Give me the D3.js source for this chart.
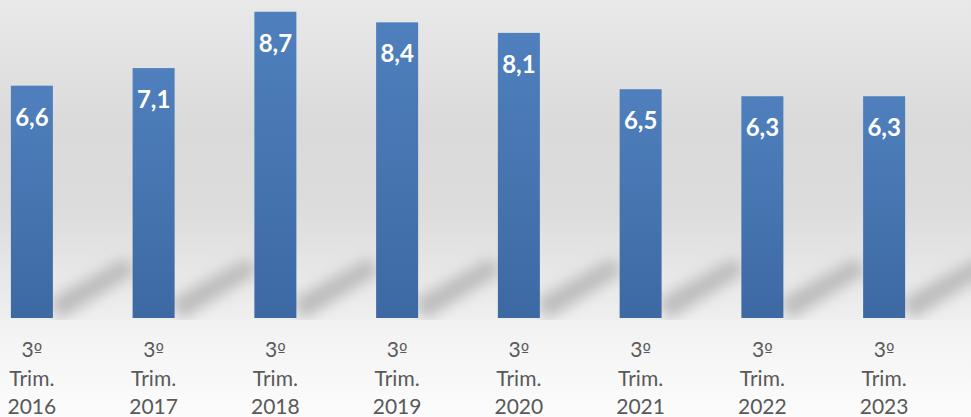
<!DOCTYPE html>
<html>
<head>
<meta charset="utf-8">
<script src="https://cdn.jsdelivr.net/npm/d3@7"></script>
<style>
  body { margin: 0; background: #fff; }
  svg { display: block; font-family: Lato, "Open Sans", sans-serif; }
</style>
</head>
<body>
<div id="main_div"></div>
<script>
/** data **/
const quarters = ["3", "3", "3", "3", "3", "3", "3", "3"];
const periods = ["Trim.", "Trim.", "Trim.", "Trim.", "Trim.", "Trim.", "Trim.", "Trim."];
const years = ["2016", "2017", "2018", "2019", "2020", "2021", "2022", "2023"];
const values = [6.6, 7.1, 8.7, 8.4, 8.1, 6.5, 6.3, 6.3];

const size = [971, 417];
const plotBottom = 318;

let svg = d3.select("#main_div")
    .append("svg")
    .attr("width", size[0])
    .attr("height", size[1]);

let defs = svg.append("defs");

/** background gradients */
let bg = defs.append("linearGradient").attr("id", "bg").attr("x1", 0).attr("x2", 0).attr("y1", 0).attr("y2", 1);
bg.append("stop").attr("offset", "0%").attr("stop-color", "#e9e9e9");
bg.append("stop").attr("offset", "40%").attr("stop-color", "#dadada");
bg.append("stop").attr("offset", "65%").attr("stop-color", "#dcdcdc");
bg.append("stop").attr("offset", "100%").attr("stop-color", "#efefef");

let bg2 = defs.append("linearGradient").attr("id", "bg2").attr("x1", 0).attr("x2", 0).attr("y1", 0).attr("y2", 1);
bg2.append("stop").attr("offset", "0%").attr("stop-color", "#f2f2f2");
bg2.append("stop").attr("offset", "100%").attr("stop-color", "#fcfcfc");

let barGrad = defs.append("linearGradient").attr("id", "barGrad").attr("x1", 0).attr("x2", 0).attr("y1", 0).attr("y2", 1);
barGrad.append("stop").attr("offset", "0%").attr("stop-color", "#4f80bd");
barGrad.append("stop").attr("offset", "100%").attr("stop-color", "#3d69a3");

defs.append("filter").attr("id", "blur")
    .attr("x", "-50%").attr("y", "-50%").attr("width", "200%").attr("height", "200%")
    .append("feGaussianBlur").attr("stdDeviation", 7);

svg.append("rect").attr("x", 0).attr("y", 0).attr("width", size[0]).attr("height", plotBottom + 2)
    .attr("fill", "url(#bg)");
svg.append("rect").attr("x", 0).attr("y", plotBottom + 2).attr("width", size[0]).attr("height", size[1] - plotBottom - 2)
    .attr("fill", "url(#bg2)");

/** scales */
let xScale = d3.scaleBand()
    .domain(years)
    .range([-29, 945])
    .paddingInner(0.655)
    .paddingOuter(0.3275);

let yScale = d3.scaleLinear()
    .domain([0, 9])
    .range([plotBottom, plotBottom - 9 * 35.2]);

/** shadows, clipped to the plot area */
defs.append("clipPath").attr("id", "plotClip")
    .append("rect").attr("x", 0).attr("y", 0).attr("width", size[0]).attr("height", plotBottom + 2);

let shadows = svg.append("g").attr("clip-path", "url(#plotClip)")
    .append("g").attr("filter", "url(#blur)");
shadows.selectAll("path")
    .data(years)
    .enter()
    .append("path")
    .attr("d", function (d) {
        let x = xScale(d) + xScale.bandwidth();
        return "M" + (x - 4) + "," + (plotBottom - 18) +
            " L" + (x + 72) + "," + (plotBottom - 60) +
            " L" + (x + 84) + "," + (plotBottom - 46) +
            " L" + (x + 6) + "," + (plotBottom + 2) + " Z";
    })
    .attr("fill", "#bcbcbc");

/** bars */
svg.append("g").selectAll("rect")
    .data(values)
    .enter()
    .append("rect")
    .attr("x", function (d, i) { return xScale(years[i]) })
    .attr("y", function (d) { return yScale(d) })
    .attr("width", xScale.bandwidth())
    .attr("height", function (d) { return yScale(0) - yScale(d) })
    .attr("fill", "url(#barGrad)");

/** value labels */
svg.append("g").selectAll("text")
    .data(values)
    .enter()
    .append("text")
    .attr("x", function (d, i) { return xScale(years[i]) + xScale.bandwidth() / 2 })
    .attr("y", function (d) { return yScale(d) + 40 })
    .attr("text-anchor", "middle")
    .attr("fill", "#ffffff")
    .attr("font-weight", "bold")
    .attr("font-size", "24px")
    .text(function (d) { return d3.format(".1f")(d).replace(".", ",") });

/** category labels */
let cat = svg.append("g").selectAll("text")
    .data(years)
    .enter()
    .append("text")
    .attr("text-anchor", "middle")
    .attr("fill", "#595959")
    .attr("font-size", "21px");

let first = cat.append("tspan")
    .attr("x", function (d) { return xScale(d) + xScale.bandwidth() / 2 })
    .attr("y", 357);
first.append("tspan").text(function (d, i) { return quarters[i] });
first.append("tspan").attr("font-family", "'DejaVu Sans'").attr("font-size", "18px").text("º");
cat.append("tspan")
    .attr("x", function (d) { return xScale(d) + xScale.bandwidth() / 2 })
    .attr("y", 386)
    .text(function (d, i) { return periods[i] });
cat.append("tspan")
    .attr("x", function (d) { return xScale(d) + xScale.bandwidth() / 2 })
    .attr("y", 414)
    .text(function (d) { return d });
</script>
</body>
</html>
